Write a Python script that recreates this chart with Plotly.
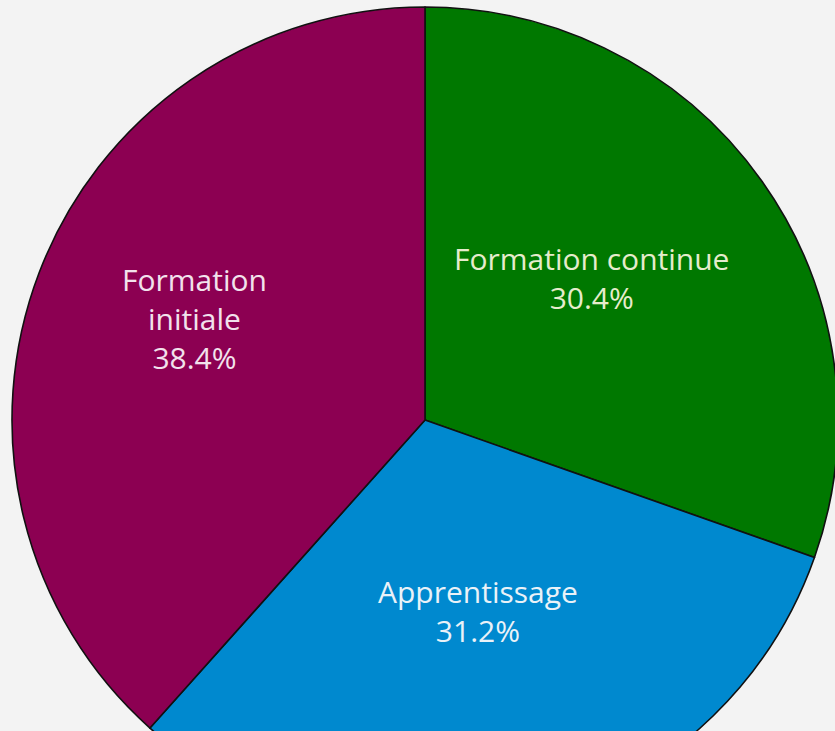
import math
import plotly.graph_objects as go

labels = ["Formation continue", "Apprentissage", "Formation initiale"]
display_labels = ["Formation continue", "Apprentissage", "Formation<br>initiale"]
shares = [30.4, 31.2, 38.4]
colors = ["#007800", "#0089cf", "#8c0052"]

texts = [f"{d}<br>{v:.1f}%" for d, v in zip(display_labels, shares)]

# layout / style constants
W, H = 850, 850
cx, cy, r = 425, 420, 413
# per-label placement: (radius fraction, angular nudge in degrees)
label_place = [(0.53, -5), (0.48, -1), (0.61, 3)]
text_colors = ["#e6eccc", "#eaf2f8", "#f2e2ec"]

fig = go.Figure(go.Pie(
    labels=labels,
    values=shares,
    textinfo="none",
    hoverinfo="label+percent",
    sort=False,
    direction="clockwise",
    rotation=0,
    marker=dict(colors=colors, line=dict(color="#111111", width=1.6)),
    domain=dict(x=[(cx - r) / W, (cx + r) / W], y=[1 - (cy + r) / H, 1 - (cy - r) / H]),
    showlegend=False,
))

total = sum(shares)
cum = 0.0
for t, v, (rf, nudge), tc in zip(texts, shares, label_place, text_colors):
    mid = (cum + v / 2) / total * 360 + nudge
    cum += v
    a = math.radians(mid)
    px = cx + rf * r * math.sin(a)
    py = cy - rf * r * math.cos(a)
    fig.add_annotation(
        x=px / W, y=1 - py / H, xref="paper", yref="paper",
        text=t, showarrow=False, align="center",
        xanchor="center", yanchor="middle",
        font=dict(family="Open Sans, Lato, sans-serif", size=30, color=tc),
    )

fig.update_layout(
    width=W, height=H,
    margin=dict(l=0, r=0, t=0, b=0),
    paper_bgcolor="#f3f3f3",
    plot_bgcolor="#f3f3f3",
)

fig.write_html(
    "out.html",
    config={"displayModeBar": False},
    post_script="document.body.style.margin='0';document.body.style.overflow='hidden';"
                "document.body.style.background='#f3f3f3';",
)
